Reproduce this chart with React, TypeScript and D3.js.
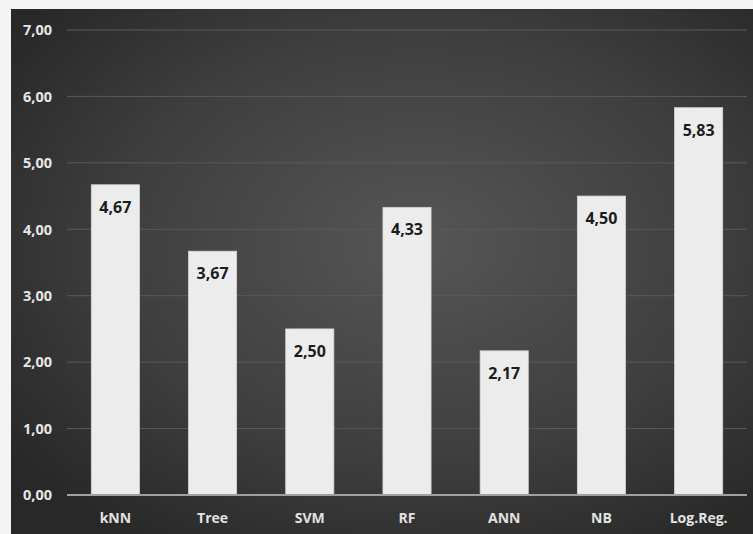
import React, { useEffect, useRef } from 'react';
import * as d3 from 'd3';

// Chart values
const categories = ['kNN', 'Tree', 'SVM', 'RF', 'ANN', 'NB', 'Log.Reg.'];
const scores = [4.67, 3.67, 2.5, 4.33, 2.17, 4.5, 5.83];
const yTicks = [0, 1, 2, 3, 4, 5, 6, 7];

const WIDTH = 753;
const HEIGHT = 534;
const FONT = '"Open Sans", Lato, sans-serif';

const fmt = (v: number) => v.toFixed(2).replace('.', ',');

const BarChart: React.FC = () => {
  const svgRef = useRef<SVGSVGElement>(null);

  useEffect(() => {
    if (!svgRef.current) return;
    const svg = d3.select(svgRef.current);
    svg.selectAll('*').remove();

    const margin = { top: 30, right: 6, bottom: 39, left: 67 };
    const innerWidth = WIDTH - margin.left - margin.right;
    const innerHeight = HEIGHT - margin.top - margin.bottom;

    // background with soft radial light
    const defs = svg.append('defs');
    const grad = defs.append('radialGradient')
      .attr('id', 'bg')
      .attr('cx', '55%')
      .attr('cy', '45%')
      .attr('r', '68%');
    grad.append('stop').attr('offset', '0%').attr('stop-color', '#565656');
    grad.append('stop').attr('offset', '60%').attr('stop-color', '#3e3e3e');
    grad.append('stop').attr('offset', '100%').attr('stop-color', '#282828');

    svg.append('rect')
      .attr('width', WIDTH)
      .attr('height', HEIGHT)
      .attr('fill', '#f4f4f4');

    svg.append('rect')
      .attr('x', 11)
      .attr('y', 9)
      .attr('width', WIDTH - 11)
      .attr('height', HEIGHT - 9)
      .attr('fill', 'url(#bg)');

    const g = svg.append('g')
      .attr('transform', `translate(${margin.left},${margin.top})`);

    const x = d3.scaleBand()
      .domain(categories)
      .range([0, innerWidth])
      .paddingInner(0.505)
      .paddingOuter(0.25);

    const y = d3.scaleLinear()
      .domain([0, 7])
      .range([innerHeight, 0]);

    // gridlines
    g.selectAll('line.grid')
      .data(yTicks.filter(t => t > 0))
      .enter()
      .append('line')
      .attr('class', 'grid')
      .attr('x1', 0)
      .attr('x2', innerWidth)
      .attr('y1', d => y(d))
      .attr('y2', d => y(d))
      .attr('stroke', '#5a5a5a')
      .attr('stroke-width', 1);

    // y tick labels
    g.selectAll('text.ytick')
      .data(yTicks)
      .enter()
      .append('text')
      .attr('class', 'ytick')
      .attr('x', -15)
      .attr('y', d => y(d))
      .attr('dy', '0.36em')
      .attr('text-anchor', 'end')
      .attr('font-family', FONT)
      .attr('font-weight', 700)
      .attr('font-size', '14.5px')
      .attr('fill', '#e6e6e6')
      .text(d => fmt(d));

    // bars
    g.selectAll('rect.bar')
      .data(scores)
      .enter()
      .append('rect')
      .attr('class', 'bar')
      .attr('x', (d, i) => x(categories[i]) || 0)
      .attr('y', d => y(d))
      .attr('width', x.bandwidth())
      .attr('height', d => innerHeight - y(d))
      .attr('fill', '#ececec')
      .attr('stroke', '#d6d6d6')
      .attr('stroke-width', 0.8);

    // value labels inside bars
    g.selectAll('text.value')
      .data(scores)
      .enter()
      .append('text')
      .attr('class', 'value')
      .attr('x', (d, i) => (x(categories[i]) || 0) + x.bandwidth() / 2)
      .attr('y', d => y(d) + 28)
      .attr('text-anchor', 'middle')
      .attr('font-family', FONT)
      .attr('font-weight', 700)
      .attr('font-size', '16px')
      .attr('fill', '#1c1c1c')
      .text(d => fmt(d));

    // baseline
    g.append('line')
      .attr('x1', 0)
      .attr('x2', innerWidth)
      .attr('y1', innerHeight)
      .attr('y2', innerHeight)
      .attr('stroke', '#a0a0a0')
      .attr('stroke-width', 2);

    // category labels
    g.selectAll('text.cat')
      .data(categories)
      .enter()
      .append('text')
      .attr('class', 'cat')
      .attr('x', d => (x(d) || 0) + x.bandwidth() / 2)
      .attr('y', innerHeight + 28)
      .attr('text-anchor', 'middle')
      .attr('font-family', FONT)
      .attr('font-weight', 700)
      .attr('font-size', '14px')
      .attr('fill', '#e2e2e2')
      .text(d => d);
  }, []);

  return <svg ref={svgRef} width={WIDTH} height={HEIGHT} style={{ display: 'block' }} />;
};

export default function App() {
  useEffect(() => {
    document.body.style.margin = '0';
  }, []);
  return <BarChart />;
}
